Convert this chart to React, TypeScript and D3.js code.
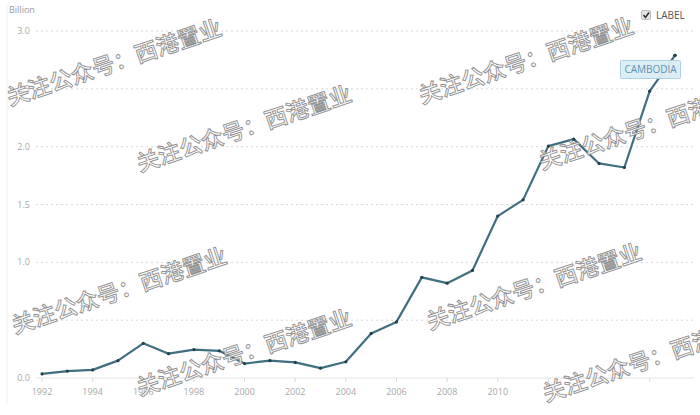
import React from "react";
import * as d3 from "d3";

const years = [1992,1993,1994,1995,1996,1997,1998,1999,2000,2001,2002,2003,2004,2005,2006,2007,2008,2009,2010,2011,2012,2013,2014,2015,2016,2017];
const values = [0.035,0.06,0.07,0.15,0.30,0.21,0.245,0.235,0.125,0.15,0.135,0.085,0.14,0.385,0.485,0.87,0.82,0.93,1.40,1.54,2.005,2.065,1.855,1.82,2.48,2.79];
const yTicks = [0, 0.5, 1.0, 1.5, 2.0, 2.5, 3.0];
const xTickYears = [1992,1994,1996,1998,2000,2002,2004,2006,2008,2010,2012,2014,2016];
const xLabelYears = [1992,1994,1996,1998,2000,2002,2004,2006,2008,2010];
const seriesLabel = "CAMBODIA";
const unitLabel = "Billion";
const watermarkText = "关注公众号：西港置业";
const watermarks = [
  [10, 106], [140, 172], [422, 104], [542, 170],
  [15, 334], [140, 396], [430, 330], [546, 402],
];

export default function App() {
  const W = 700, H = 415;
  const x = d3.scaleLinear().domain([1992, 2017]).range([42, 675]);
  const y = d3.scaleLinear().domain([0, 3]).range([378, 31]);
  const line = d3.line<number>().x((_, i) => x(years[i])).y((d) => y(d));
  const pts = values.map((v, i) => [x(years[i]), y(v)]);
  const last = pts[pts.length - 1];
  return (
    <svg width={W} height={H} style={{ position: "absolute", left: 0, top: 0, background: "#fff" }}
      fontFamily="'Open Sans', 'DejaVu Sans', sans-serif">
      <rect x={0} y={0} width={W} height={H} fill="#fff" />
      <line x1={7} x2={7} y1={4} y2={405} stroke="#f0f0f0" />
      <text x={9} y={13} fontSize={9} fill="#9a9a9a">{unitLabel}</text>
      {yTicks.map((t) => (
        <g key={t}>
          {t !== 0 && (
            <line x1={36} x2={694} y1={y(t)} y2={y(t)} stroke="#d8d8d8" strokeWidth={1} strokeDasharray="2,3" />
          )}
          <text x={30} y={y(t) + 3} fontSize={9} fill="#a8a8a8" textAnchor="end">{t.toFixed(1)}</text>
        </g>
      ))}
      <line x1={36} x2={694} y1={y(0)} y2={y(0)} stroke="#e4e4e4" strokeWidth={1.2} />
      {xTickYears.map((yr) => (
        <line key={yr} x1={x(yr)} x2={x(yr)} y1={y(0)} y2={y(0) + 4} stroke="#dcdcdc" />
      ))}
      {xLabelYears.map((yr) => (
        <text key={yr} x={x(yr)} y={395} fontSize={9} fill="#a8a8a8" textAnchor="middle">{yr}</text>
      ))}
      <path d={line(values) || ""} fill="none" stroke="#3f6f80" strokeWidth={2.2} strokeLinejoin="round" />
      {pts.map((p, i) => (
        <circle key={i} cx={p[0]} cy={p[1]} r={1.6} fill="#23404d" />
      ))}
      <g>
        <rect x={620.5} y={60.5} width={60} height={18} fill="#dcedf5" stroke="#a9d0e3" rx={1} opacity={0.95} />
        <text x={650.5} y={73} fontSize={10} fill="#5b93b3" textAnchor="middle">{seriesLabel}</text>
      </g>
      <circle cx={last[0]} cy={last[1]} r={1.6} fill="#23404d" />
      <g>
        <rect x={641.5} y={10.5} width={9} height={9} rx={1.5} fill="#e6e6e6" stroke="#bdbdbd" />
        <path d="M643.5,15 L645.5,17.5 L649,12.5" fill="none" stroke="#333" strokeWidth={1.6} />
        <text x={656} y={19} fontSize={10} fill="#555">LABEL</text>
      </g>
      {watermarks.map(([wx, wy], i) => (
        <text key={i} x={wx} y={wy} transform={`rotate(-18.5 ${wx} ${wy})`}
          fontFamily="'Noto Sans CJK SC', sans-serif" fontSize={22.5} fontWeight={500}
          fill="#ffffff" fillOpacity={0.8} stroke="#8f8f8f" strokeWidth={0.9}>
          {watermarkText}
        </text>
      ))}
    </svg>
  );
}
